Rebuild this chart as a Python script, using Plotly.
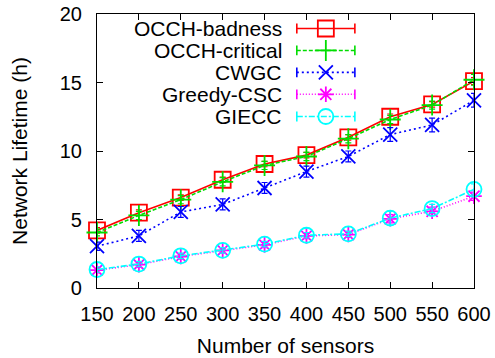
import plotly.graph_objects as go

sensors = [150, 200, 250, 300, 350, 400, 450, 500, 550, 600]
occh_badness = [4.2, 5.5, 6.6, 7.9, 9.05, 9.7, 11.0, 12.5, 13.4, 15.1]
occh_critical = [4.05, 5.3, 6.45, 7.75, 8.95, 9.6, 10.9, 12.3, 13.35, 15.2]
cwgc = [3.05, 3.8, 5.55, 6.1, 7.3, 8.5, 9.6, 11.2, 11.9, 13.7]
greedy_csc = [1.3, 1.7, 2.3, 2.75, 3.15, 3.8, 3.9, 5.05, 5.6, 6.7]
giecc = [1.35, 1.75, 2.35, 2.75, 3.2, 3.85, 3.95, 5.1, 5.8, 7.2]

err_badness = [0.2, 0.2, 0.2, 0.2, 0.2, 0.2, 0.2, 0.2, 0.2, 0.25]
err_critical = [0.25, 0.3, 0.3, 0.3, 0.3, 0.3, 0.3, 0.3, 0.3, 0.4]
err_cwgc = [0.3, 0.4, 0.4, 0.4, 0.4, 0.4, 0.4, 0.5, 0.5, 0.5]
err_greedy = [0.2, 0.2, 0.2, 0.2, 0.2, 0.2, 0.2, 0.3, 0.3, 0.3]
err_giecc = [0.2, 0.2, 0.2, 0.2, 0.2, 0.2, 0.2, 0.5, 0.3, 0.4]

names = ["OCCH-badness", "OCCH-critical", "CWGC", "Greedy-CSC", "GIECC"]
series = [occh_badness, occh_critical, cwgc, greedy_csc, giecc]
errors = [err_badness, err_critical, err_cwgc, err_greedy, err_giecc]
colors = ["#ff0000", "#00dd00", "#0000ff", "#ff00ff", "#00ffff"]
dashes = ["solid", "4px,2px", "2px,3px", "1px,2px", "6px,2px,2px,2px"]
symbols = ["square-open", "cross-thin-open", "x-thin-open", "asterisk-open", "circle-open"]
msizes = [16, 15, 14, 13, 15]

FONT = "Liberation Sans, Arial, sans-serif"

fig = go.Figure()
for name, ys, es, c, d, s, ms in zip(names, series, errors, colors, dashes, symbols, msizes):
    fig.add_trace(go.Scatter(
        x=sensors, y=ys, name=name, mode="lines+markers",
        line=dict(color=c, width=1.6, dash=d),
        marker=dict(symbol=s, size=ms, color=c, line=dict(color=c, width=1.8)),
        error_y=dict(type="data", array=es, visible=True, color=c, thickness=1.2, width=3),
        showlegend=False, cliponaxis=False,
    ))

# custom gnuplot-style legend (text right-aligned, sample to the right)
leg_x0, leg_xm, leg_x1 = 0.53, 0.607, 0.684
leg_text_x = 0.495
leg_rows = [0.947, 0.867, 0.787, 0.707, 0.626]
for name, c, d, s, ms, yr in zip(names, colors, dashes, symbols, msizes, leg_rows):
    fig.add_trace(go.Scatter(
        x=[leg_x0, leg_x1], y=[yr, yr], xaxis="x2", yaxis="y2", mode="lines",
        line=dict(color=c, width=1.6, dash=d), showlegend=False, hoverinfo="skip",
    ))
    fig.add_trace(go.Scatter(
        x=[leg_x0, leg_x1], y=[yr, yr], xaxis="x2", yaxis="y2", mode="markers",
        marker=dict(symbol="line-ns-open", size=7, color=c, line=dict(color=c, width=1.6)),
        showlegend=False, hoverinfo="skip",
    ))
    fig.add_trace(go.Scatter(
        x=[leg_xm], y=[yr], xaxis="x2", yaxis="y2", mode="markers",
        marker=dict(symbol=s, size=ms, color=c, line=dict(color=c, width=1.8)),
        showlegend=False, hoverinfo="skip",
    ))
    fig.add_annotation(x=leg_text_x, y=yr, xref="x2", yref="y2", text=name,
                       showarrow=False, xanchor="right", yanchor="middle",
                       font=dict(family=FONT, size=21, color="black"))

axis_common = dict(
    showgrid=False, zeroline=False, showline=True, linecolor="black", linewidth=1.2,
    mirror="ticks", ticks="inside", ticklen=6, tickcolor="black", tickwidth=1,
    tickfont=dict(family=FONT, size=20, color="black"), automargin=False,
)

fig.update_layout(
    width=495, height=358,
    margin=dict(l=97, r=21, t=14, b=70),
    paper_bgcolor="white", plot_bgcolor="white",
    font=dict(family=FONT, size=20, color="black"),
    xaxis=dict(range=[150, 600], tickvals=sensors, ticktext=[str(v) for v in sensors],
               title=dict(text="Number of sensors", font=dict(family=FONT, size=21), standoff=14),
               ticklabelstandoff=8, **axis_common),
    yaxis=dict(range=[0, 20], tickvals=[0, 5, 10, 15, 20],
               title=dict(text="Network Lifetime (h)", font=dict(family=FONT, size=21), standoff=26),
               ticklabelstandoff=10, **axis_common),
    xaxis2=dict(overlaying="x", range=[0, 1], visible=False, fixedrange=True),
    yaxis2=dict(overlaying="y", range=[0, 1], visible=False, fixedrange=True),
    showlegend=False,
)

fig.write_html("out.html", config={"displayModeBar": False},
               post_script="document.body.style.margin='0px';document.body.style.overflow='hidden';")
